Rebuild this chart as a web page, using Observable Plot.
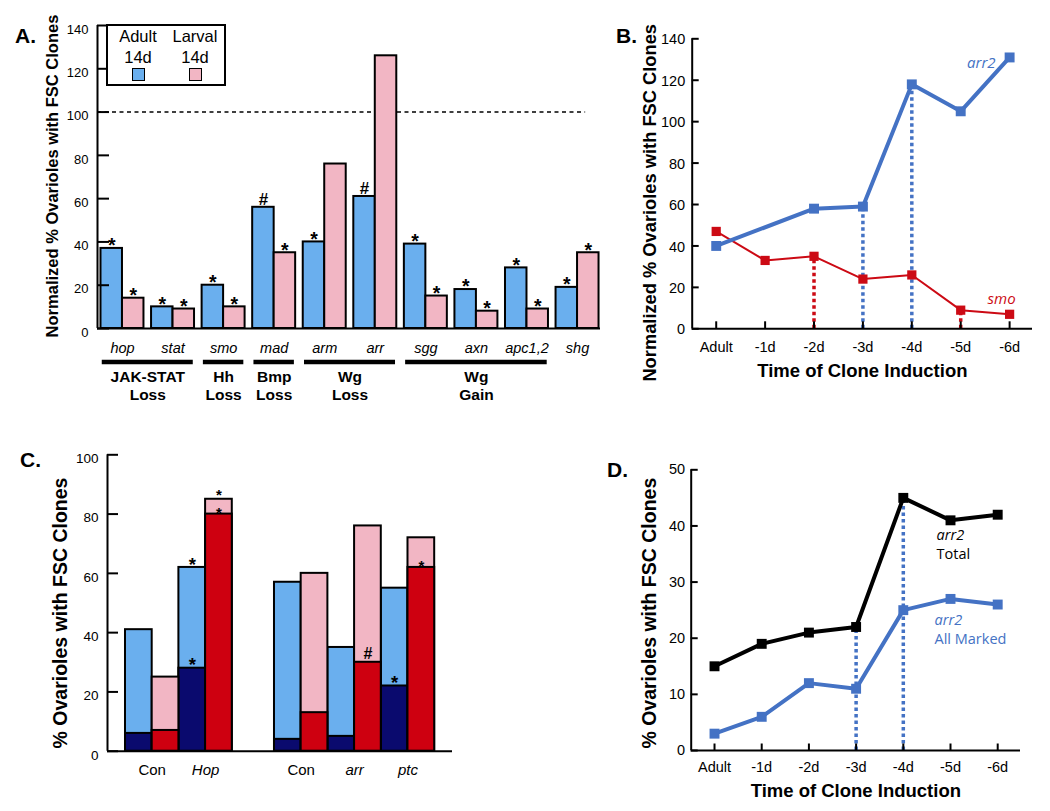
<!DOCTYPE html>
<html>
<head>
<meta charset="utf-8">
<script src="https://cdn.jsdelivr.net/npm/d3@7"></script>
<script src="https://cdn.jsdelivr.net/npm/@observablehq/plot@0.6"></script>
<style>
html, body { margin: 0; padding: 0; background: #fff; }
#fig { position: relative; width: 1050px; height: 811px; overflow: hidden; background: #fff;
       font-family: "Liberation Sans", Arial, Helvetica, sans-serif; color: #000; }
.plabel { position: absolute; font-weight: bold; font-size: 21px; line-height: 1; white-space: nowrap; }
#legendA { position: absolute; left: 106px; top: 24px; width: 116px; height: 58px; border: 2px solid #000; background: #fff; }
#legendA .t { position: absolute; width: 60px; text-align: center; font-size: 16.5px; line-height: 1; }
#legendA .sw { position: absolute; width: 11px; height: 11px; border: 1.5px solid #000; }
</style>
</head>
<body>
<div id="fig"></div>
<script>
// ---------------- DATA ----------------
// Panel A
const genesA   = ["hop", "stat", "smo", "mad", "arm", "arr", "sgg", "axn", "apc1,2", "shg"];
const adultA   = [37, 10, 20, 56, 40, 61, 39, 18, 28, 19];
const larvalA  = [14, 9, 10, 35, 76, 126, 15, 8, 9, 35];
const adultSigA  = ["*", "*", "*", "#", "*", "#", "*", "*", "*", "*"];
const larvalSigA = ["*", "*", "*", "*", "", "", "*", "*", "*", "*"];
const groupLabelsA = ["JAK-STAT\nLoss", "Hh\nLoss", "Bmp\nLoss", "Wg\nLoss", "Wg\nGain"];
const groupFirstA  = ["hop", "smo", "mad", "arm", "sgg"];
const groupLastA   = ["stat", "smo", "mad", "arr", "apc1,2"];
const yTicksA = [0, 20, 40, 60, 80, 100, 120, 140];
const refLineA = [100];
const legendA = ["Adult\n14d", "Larval\n14d"];

// Panel B
const timesB = ["Adult", "-1d", "-2d", "-3d", "-4d", "-5d", "-6d"];
const arr2B  = [40, null, 58, 59, 118, 105, 131];
const smoB   = [47, 33, 35, 24, 26, 9, 7];
const dropSeriesB = ["smo", "arr2", "arr2", "smo"];
const dropTimeB   = ["-2d", "-3d", "-4d", "-5d"];
const yTicksB = [0, 20, 40, 60, 80, 100, 120, 140];

// Panel C
const genotypesC = ["Con", "Hop", "Con", "arr", "ptc"];
const setC = [1, 1, 2, 2, 2];
const adultTotalC   = [41, 62, 57, 35, 55];
const adultMarkedC  = [6, 28, 4, 5, 22];
const larvalTotalC  = [25, 85, 60, 76, 72];
const larvalMarkedC = [7, 80, 13, 30, 62];
const adultTotalSigC   = ["", "*", "", "", ""];
const adultMarkedSigC  = ["", "*", "", "", "*"];
const larvalTotalSigC  = ["", "*", "", "", ""];
const larvalMarkedSigC = ["", "*", "", "#", "*"];
const yTicksC = [0, 20, 40, 60, 80, 100];

// Panel D
const timesD  = ["Adult", "-1d", "-2d", "-3d", "-4d", "-5d", "-6d"];
const totalD  = [15, 19, 21, 22, 45, 41, 42];
const markedD = [3, 6, 12, 11, 25, 27, 26];
const dropTimeD = ["-3d", "-4d"];
const yTicksD = [0, 10, 20, 30, 40, 50];

// ---------------- STYLE ----------------
const FONT  = '"Liberation Sans", Arial, Helvetica, sans-serif';
const FONT2 = '"Open Sans", "Liberation Sans", sans-serif';
const BLUE_FILL = "#6AAFEE";
const PINK_FILL = "#F2B6C4";
const NAVY = "#0A0A6E";
const RED_FILL = "#CE0010";
const LINE_BLUE = "#4472C4";
const LINE_RED = "#CC0A14";

const fig = document.getElementById("fig");

function place(el, left, top) {
  el.style.position = "absolute";
  el.style.left = left + "px";
  el.style.top = top + "px";
  fig.appendChild(el);
}

function frame(p) {
  p.pxX = (p.width - p.mL - p.mR) / (p.xDom[1] - p.xDom[0]);
  p.pxY = (p.height - p.mT - p.mB) / (p.yDom[1] - p.yDom[0]);
  return p;
}

function render(p, marks) {
  const svg = Plot.plot({
    width: p.width, height: p.height,
    marginLeft: p.mL, marginTop: p.mT, marginRight: p.mR, marginBottom: p.mB,
    x: {domain: p.xDom, axis: null},
    y: {domain: p.yDom, axis: null},
    style: {fontFamily: FONT, fontSize: "14px", color: "black", background: "transparent", overflow: "visible"},
    marks
  });
  place(svg, p.left, p.top);
  return svg;
}

function yAxis(p, ticks, tickPx, labelDx, labelDy, fontSize) {
  const x0 = p.xDom[0];
  return [
    Plot.ruleX([x0], {y1: p.yDom[0], y2: p.yDom[1], stroke: "black", strokeWidth: 2}),
    Plot.ruleY(ticks, {y: d => d, x1: x0, x2: x0 + tickPx / p.pxX, stroke: "black", strokeWidth: 2}),
    Plot.text(ticks, {x: x0, y: d => d, text: d => String(d), textAnchor: "end",
                      dx: labelDx, dy: labelDy, fontSize, fontFamily: FONT})
  ];
}

function yTitle(text, dx, dy, fontSize) {
  return Plot.text([text], {text: d => d, frameAnchor: "left", textAnchor: "middle", lineAnchor: "middle",
                            rotate: -90, dx, dy, fontWeight: "bold", fontSize, fontFamily: FONT});
}

function panelLabel(txt, left, baseline) {
  const d = document.createElement("div");
  d.className = "plabel";
  d.textContent = txt;
  place(d, left, baseline - 17.8);
}

// ---------------- PANEL A ----------------
{
  const p = frame({left: 0, top: 0, width: 610, height: 410, mL: 97, mT: 25, mR: 10, mB: 82,
                   xDom: [-0.494, 9.454], yDom: [0, 140]});
  const bw = 0.425;
  const idx = g => genesA.indexOf(g);
  const sigMarks = (vals, sigs, offset, sym, dy, size) =>
    Plot.text(genesA, {filter: (d, i) => sigs[i] === sym, x: (d, i) => i + offset, y: (d, i) => vals[i],
                       text: (d, i) => sigs[i], dy, fontSize: size, fontWeight: "bold", fontFamily: FONT});
  render(p, [
    Plot.ruleY(refLineA, {y: d => d, x1: p.xDom[0], x2: genesA.length - 1 + 0.16,
                          stroke: "black", strokeWidth: 1.6, strokeDasharray: "4,3.5"}),
    Plot.rect(genesA, {x1: (d, i) => i - bw, x2: (d, i) => i, y1: 0, y2: (d, i) => adultA[i],
                       fill: BLUE_FILL, stroke: "black", strokeWidth: 2}),
    Plot.rect(genesA, {x1: (d, i) => i, x2: (d, i) => i + bw, y1: 0, y2: (d, i) => larvalA[i],
                       fill: PINK_FILL, stroke: "black", strokeWidth: 2}),
    Plot.ruleY([0], {stroke: "black", strokeWidth: 2}),
    ...yAxis(p, yTicksA, 12, -9, 4, 13),
    sigMarks(adultA, adultSigA, -bw / 2, "*", -2.5, 19.5),
    sigMarks(adultA, adultSigA, -bw / 2, "#", -8, 17),
    sigMarks(larvalA, larvalSigA, bw / 2, "*", -2.5, 19.5),
    sigMarks(larvalA, larvalSigA, bw / 2, "#", -8, 17),
    Plot.text(genesA, {x: (d, i) => i, y: 0, text: d => d, dy: 20, fontStyle: "italic",
                       fontSize: 14.5, fontFamily: FONT}),
    Plot.ruleY(groupLabelsA, {y: 0, dy: 33.5,
                              x1: (d, i) => idx(groupFirstA[i]) - 0.4,
                              x2: (d, i) => idx(groupLastA[i]) + 0.4,
                              stroke: "black", strokeWidth: 4.5}),
    Plot.text(groupLabelsA, {x: (d, i) => (idx(groupFirstA[i]) + idx(groupLastA[i])) / 2, y: 0,
                             text: d => d, dy: 40, lineAnchor: "top", lineHeight: 1.18,
                             fontWeight: "bold", fontSize: 15.5, fontFamily: FONT}),
    yTitle("Normalized % Ovarioles with FSC Clones", -45, -1, 16.5)
  ]);
  // legend
  const box = document.createElement("div");
  box.id = "legendA";
  const fills = [BLUE_FILL, PINK_FILL];
  const centers = [30, 87];
  legendA.forEach((lab, k) => {
    lab.split("\n").forEach((line, j) => {
      const t = document.createElement("div");
      t.className = "t";
      t.textContent = line;
      t.style.left = (centers[k] - 30) + "px";
      t.style.top = (2 + j * 21) + "px";
      box.appendChild(t);
    });
    const s = document.createElement("div");
    s.className = "sw";
    s.style.background = fills[k];
    s.style.left = (centers[k] - 6) + "px";
    s.style.top = "42px";
    box.appendChild(s);
  });
  fig.appendChild(box);
  panelLabel("A.", 15, 43);
}

// ---------------- PANEL B ----------------
{
  const p = frame({left: 600, top: 0, width: 450, height: 400, mL: 91.7, mT: 38.3, mR: 18, mB: 71.7,
                   xDom: [-0.491, 6.468], yDom: [0, 140]});
  const arr2Pts = timesB.map((t, i) => ({i, v: arr2B[i]})).filter(d => d.v != null);
  const smoPts = timesB.map((t, i) => ({i, v: smoB[i]}));
  const seriesVal = (s, t) => (s === "arr2" ? arr2B : smoB)[timesB.indexOf(t)];
  render(p, [
    Plot.ruleX(dropTimeB, {x: d => timesB.indexOf(d), y1: 0, y2: (d, i) => seriesVal(dropSeriesB[i], d),
                           stroke: (d, i) => dropSeriesB[i] === "arr2" ? LINE_BLUE : LINE_RED,
                           strokeWidth: 3.5, strokeDasharray: "3.5,3"}),
    Plot.ruleY([0], {stroke: "black", strokeWidth: 2}),
    Plot.ruleX(timesB, {x: (d, i) => i, y1: 0, y2: 7 / p.pxY, stroke: "black", strokeWidth: 2}),
    ...yAxis(p, yTicksB, 7, -7, 1, 14.5),
    Plot.line(smoPts, {x: "i", y: "v", stroke: LINE_RED, strokeWidth: 2}),
    Plot.line(arr2Pts, {x: "i", y: "v", stroke: LINE_BLUE, strokeWidth: 4}),
    Plot.dot(smoPts, {x: "i", y: "v", symbol: "square", r: 5.2, fill: LINE_RED}),
    Plot.dot(arr2Pts, {x: "i", y: "v", symbol: "square", r: 5.6, fill: LINE_BLUE}),
    Plot.text(timesB, {x: (d, i) => i, y: 0, text: d => d, dy: 19, fontSize: 14.5, fontFamily: FONT}),
    Plot.text(["arr2"], {x: timesB.length - 1, y: arr2B[timesB.length - 1], text: d => d, textAnchor: "end",
                         dx: -14, dy: 5.5, fill: LINE_BLUE, fontStyle: "italic", fontSize: 15, fontFamily: FONT2}),
    Plot.text(["smo"], {x: timesB.length - 1, y: smoB[timesB.length - 1], text: d => d, textAnchor: "end",
                        dx: 6, dy: -15, fill: LINE_RED, fontStyle: "italic", fontSize: 15, fontFamily: FONT2}),
    Plot.text(["Time of Clone Induction"], {text: d => d, frameAnchor: "bottom", textAnchor: "middle",
                                           lineAnchor: "top", dy: 35,
                                           fontWeight: "bold", fontSize: 18.5, fontFamily: FONT}),
    yTitle("Normalized % Ovarioles with FSC Clones", -41.7, 19, 18.3)
  ]);
  panelLabel("B.", 616, 43);
}

// ---------------- PANEL C ----------------
{
  const p = frame({left: 0, top: 410, width: 480, height: 401, mL: 107, mT: 44.3, mR: 28, mB: 60.3,
                   xDom: [-0.674, 12.247], yDom: [0, 100]});
  const gap = 1.58;
  const start = (d, i) => 2 * i + (setC[i] - 1) * gap;
  const bar = (off, vals, fill) =>
    Plot.rect(genotypesC, {x1: (d, i) => start(d, i) + off, x2: (d, i) => start(d, i) + off + 1,
                           y1: 0, y2: (d, i) => vals[i], fill, stroke: "black", strokeWidth: 2});
  const sig = (off, vals, sigs, sym, dy, size) =>
    Plot.text(genotypesC, {filter: (d, i) => sigs[i] === sym, x: (d, i) => start(d, i) + off + 0.5,
                           y: (d, i) => vals[i], text: (d, i) => sigs[i], dy,
                           fontSize: size, fontWeight: "bold", fontFamily: FONT});
  const label = (italic) =>
    Plot.text(genotypesC, {filter: d => (d !== "Con") === italic, x: (d, i) => start(d, i) + 1, y: 0,
                           text: d => d, dy: 19.3, fontStyle: italic ? "italic" : "normal",
                           fontSize: 15, fontFamily: FONT});
  render(p, [
    bar(0, adultTotalC, BLUE_FILL),
    bar(0, adultMarkedC, NAVY),
    bar(1, larvalTotalC, PINK_FILL),
    bar(1, larvalMarkedC, RED_FILL),
    Plot.ruleY([0], {stroke: "black", strokeWidth: 2}),
    ...yAxis(p, yTicksC, 11, -9, 4, 13.5),
    sig(0, adultTotalC, adultTotalSigC, "*", -2, 18.5),
    sig(0, adultMarkedC, adultMarkedSigC, "*", -3, 18.5),
    sig(1, larvalTotalC, larvalTotalSigC, "*", -4.5, 15),
    sig(1, larvalMarkedC, larvalMarkedSigC, "*", -1, 15),
    sig(1, larvalMarkedC, larvalMarkedSigC, "#", -8, 16),
    label(false),
    label(true),
    yTitle("% Ovarioles with FSC Clones", -47, 10, 19.5)
  ]);
  panelLabel("C.", 20, 467);
}

// ---------------- PANEL D ----------------
{
  const p = frame({left: 600, top: 410, width: 450, height: 401, mL: 90.7, mT: 59.3, mR: 30, mB: 61,
                   xDom: [-0.494, 6.483], yDom: [0, 50]});
  const totPts = timesD.map((t, i) => ({i, v: totalD[i]}));
  const mrkPts = timesD.map((t, i) => ({i, v: markedD[i]}));
  const k5 = timesD.indexOf("-5d");
  render(p, [
    Plot.ruleX(dropTimeD, {x: d => timesD.indexOf(d), y1: 0, y2: d => totalD[timesD.indexOf(d)],
                           stroke: LINE_BLUE, strokeWidth: 3.5, strokeDasharray: "3.5,3"}),
    Plot.ruleY([0], {stroke: "black", strokeWidth: 2}),
    Plot.ruleX(timesD, {x: (d, i) => i, y1: 0, y2: 6.5 / p.pxY, stroke: "black", strokeWidth: 2}),
    ...yAxis(p, yTicksD, 7, -6, 0, 14.5),
    Plot.line(totPts, {x: "i", y: "v", stroke: "black", strokeWidth: 4}),
    Plot.line(mrkPts, {x: "i", y: "v", stroke: LINE_BLUE, strokeWidth: 4}),
    Plot.dot(totPts, {x: "i", y: "v", symbol: "square", r: 5.6, fill: "black"}),
    Plot.dot(mrkPts, {x: "i", y: "v", symbol: "square", r: 5.6, fill: LINE_BLUE}),
    Plot.text(timesD, {x: (d, i) => i, y: 0, text: d => d, dy: 17, fontSize: 14.5, fontFamily: FONT}),
    Plot.text(["arr2"], {x: k5, y: totalD[k5], text: d => d, textAnchor: "start", dx: -14, dy: 15,
                         fill: "black", fontStyle: "italic", fontSize: 14.5, fontFamily: FONT2}),
    Plot.text(["Total"], {x: k5, y: totalD[k5], text: d => d, textAnchor: "start", dx: -14, dy: 34,
                          fill: "black", fontSize: 14.5, fontFamily: FONT2}),
    Plot.text(["arr2"], {x: k5, y: markedD[k5], text: d => d, textAnchor: "start", dx: -16, dy: 21.5,
                         fill: LINE_BLUE, fontStyle: "italic", fontSize: 14.5, fontFamily: FONT2}),
    Plot.text(["All Marked"], {x: k5, y: markedD[k5], text: d => d, textAnchor: "start", dx: -16, dy: 40,
                               fill: LINE_BLUE, fontSize: 14.5, fontFamily: FONT2}),
    Plot.text(["Time of Clone Induction"], {text: d => d, frameAnchor: "bottom", textAnchor: "middle",
                                           lineAnchor: "top", dy: 33.3,
                                           fontWeight: "bold", fontSize: 18.5, fontFamily: FONT}),
    yTitle("% Ovarioles with FSC Clones", -41, 3, 19.5)
  ]);
  panelLabel("D.", 607, 477);
}
</script>
</body>
</html>
